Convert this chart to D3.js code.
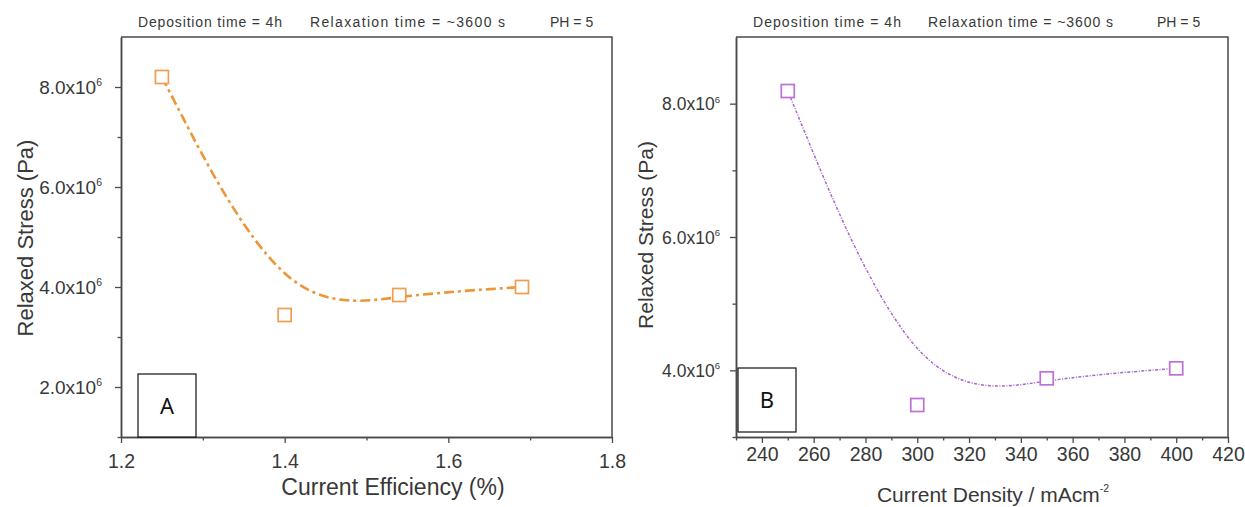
<!DOCTYPE html>
<html>
<head>
<meta charset="utf-8">
<script src="https://cdn.jsdelivr.net/npm/d3@7"></script>
<style>
  body { margin: 0; background: #fff; }
  svg { font-family: "Liberation Sans", Arial, sans-serif; }
</style>
</head>
<body>
<div id="chart"></div>
<script>
// ---- data ----
const efficiency = [1.25, 1.40, 1.54, 1.69];          // Current Efficiency (%)
const stressA = [8.2e6, 3.44e6, 3.84e6, 4.0e6];        // Relaxed Stress (Pa), panel A
const density = [250, 300, 350, 400];                  // Current Density / mAcm-2
const stressB = [8.19e6, 3.48e6, 3.88e6, 4.03e6];      // Relaxed Stress (Pa), panel B

const yTicksA = [2e6, 4e6, 6e6, 8e6];
const yMinorA = [1e6, 3e6, 5e6, 7e6];
const xTicksA = [1.2, 1.4, 1.6, 1.8];
const xMinorA = [1.3, 1.5, 1.7];
const yTicksB = [4e6, 6e6, 8e6];
const yMinorB = [3e6, 5e6, 7e6];
const xTicksB = [240, 260, 280, 300, 320, 340, 360, 380, 400, 420];
const xMinorB = [230, 250, 270, 290, 310, 330, 350, 370, 390, 410];

const headers = ["Deposition time = 4h", "Relaxation time = ~3600 s", "PH = 5"];

const W = 1245, H = 507;
const svg = d3.select("#chart").append("svg")
  .attr("width", W)
  .attr("height", H);

const axisColor = "#4a4a4a";
const textColor = "#383838";

function drawPanel(p) {
  const x = d3.scaleLinear().domain(p.xDomain).range([p.left, p.right]);
  const y = d3.scaleLinear().domain(p.yDomain).range([p.bottom, p.top]);
  const g = svg.append("g");

  // header line above the frame
  p.headerPos.forEach((hp, i) => {
    const t = g.append("text")
      .attr("x", hp[0]).attr("y", 27)
      .attr("font-size", 14).attr("fill", textColor)
      .text(headers[i]);
    if (hp[1]) t.attr("textLength", hp[1]).attr("lengthAdjust", "spacing");
  });

  // frame top + right
  g.append("path")
    .attr("d", `M${p.left},${p.top}H${p.right}V${p.bottom}`)
    .attr("fill", "none").attr("stroke", axisColor).attr("stroke-width", 1.5);

  // x axis (major + minor)
  const xAxis = g.append("g")
    .attr("transform", `translate(0,${p.bottom})`)
    .call(d3.axisBottom(x).tickValues(p.xTicks).tickSize(6).tickSizeOuter(0)
      .tickFormat(p.xFormat));
  g.append("g")
    .attr("transform", `translate(0,${p.bottom})`)
    .call(d3.axisBottom(x).tickValues(p.xMinor).tickSize(3.5).tickSizeOuter(0).tickFormat(""));

  // y axis (major + minor)
  const yAxis = g.append("g")
    .attr("transform", `translate(${p.left},0)`)
    .call(d3.axisLeft(y).tickValues(p.yTicks).tickSize(6).tickSizeOuter(0).tickFormat(""));
  g.append("g")
    .attr("transform", `translate(${p.left},0)`)
    .call(d3.axisLeft(y).tickValues(p.yMinor).tickSize(3.5).tickSizeOuter(0).tickFormat(""));

  g.selectAll(".domain").attr("stroke", axisColor).attr("stroke-width", 1.5);
  g.selectAll(".tick line").attr("stroke", axisColor).attr("stroke-width", 1.3);

  xAxis.selectAll(".tick text")
    .attr("y", 0).attr("dy", null)
    .attr("transform", `translate(0,${p.xLabelBase})`)
    .attr("font-size", p.xTickFont).attr("fill", textColor)
    .attr("font-family", "Liberation Sans, Arial, sans-serif");

  // y tick labels "8.0x10^6"
  const ylab = yAxis.selectAll(".tick")
    .append("text")
    .attr("x", -p.yLabelGap).attr("y", p.yTickFont * 0.36)
    .attr("text-anchor", "end")
    .attr("fill", textColor)
    .attr("font-size", p.yTickFont)
    .attr("font-family", "Liberation Sans, Arial, sans-serif");
  ylab.append("tspan").text(d => (d / 1e6).toFixed(1) + "x10");
  ylab.append("tspan")
    .attr("dy", -p.yTickFont * 0.45)
    .attr("font-size", p.yTickFont * 0.55)
    .text("6");

  // axis titles
  g.append("text")
    .attr("transform", `translate(${p.yTitleX},${p.yTitleY}) rotate(-90)`)
    .attr("text-anchor", "middle")
    .attr("font-size", p.yTitleFont).attr("fill", textColor)
    .text("Relaxed Stress (Pa)");

  const xt = g.append("text")
    .attr("x", p.xTitleX).attr("y", p.xTitleY)
    .attr("text-anchor", "middle")
    .attr("font-size", p.xTitleFont).attr("fill", textColor);
  xt.append("tspan").text(p.xTitle);
  if (p.xTitleSup) {
    xt.append("tspan").attr("dy", -p.xTitleFont * 0.5)
      .attr("font-size", p.xTitleFont * 0.5).text(p.xTitleSup);
  }

  // B-spline style fitted curve through the points
  const pts = p.xs.map((v, i) => [v, p.ys[i]]);
  const line = d3.line()
    .x(d => x(d[0])).y(d => y(d[1]))
    .curve(d3.curveBasis);
  g.append("path")
    .datum(pts)
    .attr("d", line)
    .attr("fill", "none")
    .attr("stroke", p.lineColor)
    .attr("stroke-width", p.lineWidth)
    .attr("stroke-dasharray", p.dash);

  // hollow square markers
  const s = 13;
  g.selectAll(".marker")
    .data(pts)
    .join("rect")
    .attr("class", "marker")
    .attr("x", d => x(d[0]) - s / 2)
    .attr("y", d => y(d[1]) - s / 2)
    .attr("width", s).attr("height", s)
    .attr("fill", "#fff")
    .attr("stroke", p.markerColor)
    .attr("stroke-width", 1.7);

  // panel letter box
  g.append("rect")
    .attr("x", p.tag.x).attr("y", p.tag.y)
    .attr("width", 58).attr("height", p.tag.h)
    .attr("fill", "#fff").attr("stroke", "#111").attr("stroke-width", 1.2);
  g.append("text")
    .attr("x", p.tag.x + 29).attr("y", p.tag.y + p.tag.h / 2 + 8)
    .attr("text-anchor", "middle")
    .attr("font-family", "Noto Sans, Liberation Sans, sans-serif")
    .attr("font-size", 22).attr("fill", "#111")
    .text(p.tag.label);
}

drawPanel({
  left: 121, right: 612, top: 37, bottom: 437,
  xDomain: [1.2, 1.8], yDomain: [1e6, 9e6],
  xTicks: xTicksA, xMinor: xMinorA, yTicks: yTicksA, yMinor: yMinorA,
  xFormat: d3.format(".1f"),
  xLabelBase: 31, xTickFont: 19.5,
  yTickFont: 19, yLabelGap: 19,
  yTitleX: 33, yTitleY: 238, yTitleFont: 22,
  xTitle: "Current Efficiency (%)", xTitleX: 393, xTitleY: 495, xTitleFont: 23,
  headerPos: [[138, 144], [310, 195], [550, 0]],
  xs: efficiency, ys: stressA,
  lineColor: "#ec9636", lineWidth: 2.6, dash: "10,4,3,4",
  markerColor: "#ee9d52",
  tag: { x: 138, y: 374, h: 63, label: "A" }
});

drawPanel({
  left: 736, right: 1228, top: 37, bottom: 437,
  xDomain: [230, 420], yDomain: [3e6, 9e6],
  xTicks: xTicksB, xMinor: xMinorB, yTicks: yTicksB, yMinor: yMinorB,
  xFormat: d3.format("d"),
  xLabelBase: 24, xTickFont: 19.5,
  yTickFont: 17.5, yLabelGap: 16,
  yTitleX: 653, yTitleY: 235, yTitleFont: 21,
  xTitle: "Current Density / mAcm", xTitleSup: "-2", xTitleX: 993, xTitleY: 502, xTitleFont: 21,
  headerPos: [[753, 148], [928, 185], [1157, 0]],
  xs: density, ys: stressB,
  lineColor: "#a468cf", lineWidth: 1.5, dash: "3,1.5,1,1.5",
  markerColor: "#bd6fda",
  tag: { x: 738, y: 368, h: 64, label: "B" }
});
</script>
</body>
</html>
